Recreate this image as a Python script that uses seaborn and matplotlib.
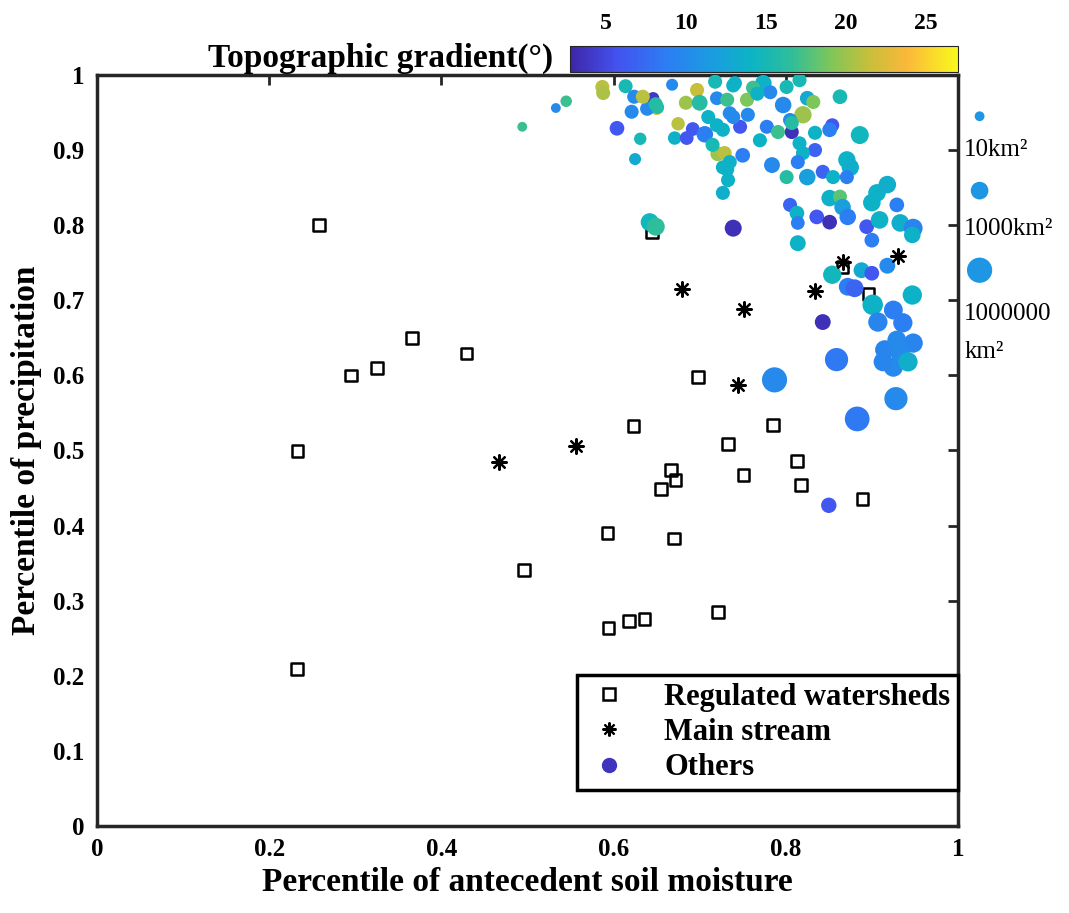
import numpy as np
import pandas as pd
import seaborn as sns
import matplotlib.pyplot as plt
from matplotlib.colors import LinearSegmentedColormap, Normalize
from matplotlib.cm import ScalarMappable
from matplotlib.lines import Line2D

# regulated watersheds (open squares)
reg_x = [0.258, 0.233, 0.295, 0.325, 0.366, 0.429, 0.232, 0.496, 0.593, 0.594,
         0.618, 0.636, 0.623, 0.655, 0.667, 0.672, 0.670, 0.698, 0.721, 0.733,
         0.751, 0.785, 0.813, 0.818, 0.889, 0.645, 0.866, 0.896]
reg_y = [0.800, 0.499, 0.600, 0.610, 0.650, 0.629, 0.209, 0.341, 0.390, 0.264,
         0.273, 0.276, 0.533, 0.449, 0.474, 0.461, 0.383, 0.598, 0.285, 0.509,
         0.467, 0.534, 0.486, 0.454, 0.435, 0.791, 0.744, 0.708]

# main stream (asterisks)
main_x = [0.467, 0.556, 0.679, 0.751, 0.744, 0.834, 0.866, 0.930]
main_y = [0.485, 0.506, 0.715, 0.688, 0.587, 0.712, 0.751, 0.759]

# others (circles): soil moisture, precipitation, area (km2), gradient (deg)
oth_x = [0.494, 0.533, 0.545, 0.587, 0.588, 0.614, 0.604, 0.624, 0.621, 0.631,
         0.625, 0.646, 0.650, 0.639, 0.649, 0.668, 0.642, 0.649, 0.697, 0.684,
         0.675, 0.671, 0.685, 0.692, 0.706, 0.718, 0.720, 0.700, 0.710, 0.721,
         0.715, 0.727, 0.727, 0.739, 0.741, 0.774, 0.782, 0.801, 0.816, 0.825,
         0.832, 0.863, 0.732, 0.755, 0.762, 0.797, 0.820, 0.805, 0.807, 0.807,
         0.854, 0.851, 0.886, 0.747, 0.735, 0.778, 0.791, 0.770, 0.834, 0.816,
         0.834, 0.820, 0.729, 0.750, 0.732, 0.733, 0.784, 0.814, 0.801, 0.825,
         0.843, 0.855, 0.871, 0.875, 0.871, 0.805, 0.813, 0.814, 0.836, 0.851,
         0.851, 0.863, 0.866, 0.872, 0.894, 0.906, 0.918, 0.900, 0.909, 0.929,
         0.933, 0.948, 0.947, 0.900, 0.814, 0.854, 0.888, 0.900, 0.918, 0.872,
         0.880, 0.901, 0.947, 0.925, 0.907, 0.936, 0.948, 0.915, 0.933, 0.925,
         0.942, 0.843, 0.859, 0.787, 0.928, 0.883, 0.850, 0.929, 0.913, 0.739,
         0.767, 0.735, 0.727, 0.720, 0.756, 0.739, 0.634, 0.651]
oth_y = [0.931, 0.956, 0.965, 0.984, 0.976, 0.985, 0.929, 0.971, 0.951, 0.915,
         0.888, 0.969, 0.956, 0.955, 0.961, 0.987, 0.804, 0.798, 0.980, 0.963,
         0.935, 0.916, 0.916, 0.928, 0.921, 0.991, 0.969, 0.963, 0.944, 0.895,
         0.907, 0.877, 0.843, 0.796, 0.989, 0.989, 0.977, 0.984, 0.993, 0.969,
         0.964, 0.971, 0.967, 0.967, 0.983, 0.960, 0.947, 0.940, 0.924, 0.936,
         0.933, 0.927, 0.920, 0.931, 0.949, 0.931, 0.924, 0.913, 0.923, 0.909,
         0.900, 0.896, 0.896, 0.893, 0.874, 0.860, 0.880, 0.884, 0.864, 0.864,
         0.871, 0.864, 0.887, 0.877, 0.864, 0.827, 0.816, 0.803, 0.811, 0.804,
         0.836, 0.838, 0.824, 0.811, 0.798, 0.843, 0.854, 0.830, 0.807, 0.827,
         0.803, 0.796, 0.787, 0.780, 0.776, 0.734, 0.740, 0.736, 0.746, 0.718,
         0.716, 0.694, 0.707, 0.687, 0.671, 0.670, 0.643, 0.634, 0.630, 0.611,
         0.618, 0.671, 0.621, 0.594, 0.569, 0.542, 0.427, 0.647, 0.618, 0.986,
         0.975, 0.884, 0.927, 0.933, 0.947, 0.944, 0.971, 0.957]
oth_area = [10, 10, 20, 70, 70, 70, 100, 70, 70, 30,
            25, 30, 70, 70, 70, 25, 800, 800, 70, 70,
            50, 50, 60, 60, 300, 70, 60, 200, 70, 100,
            70, 70, 70, 400, 70, 300, 70, 70, 70, 100,
            70, 100, 70, 70, 70, 300, 500, 70, 70, 70,
            70, 100, 800, 70, 70, 70, 70, 70, 70, 70,
            70, 70, 70, 100, 70, 70, 200, 70, 70, 300,
            70, 70, 500, 500, 70, 70, 100, 60, 100, 100,
            300, 70, 300, 300, 100, 600, 600, 600, 600, 100,
            600, 1500, 300, 100, 200, 1000, 200, 100, 200, 700,
            700, 5000, 2000, 1500, 2000, 2000, 2000, 2000, 2000, 2000,
            2000, 200, 50000, 300000, 50000, 200000, 150, 1500, 1500, 70,
            70, 70, 70, 70, 70, 70, 70, 50]
oth_grad = [17, 10, 17, 21, 20.5, 15, 6, 10, 10, 15,
            13, 4, 22, 10, 16, 10, 14.5, 16.5, 21.5, 20,
            21, 14, 6, 6, 9, 15, 10, 16, 14, 20,
            15, 14, 13.5, 3.5, 14, 14, 10, 15, 15, 13,
            19, 15, 17, 19, 17, 10, 20, 10, 3.5, 16,
            6, 9, 14.5, 6, 10, 9, 17, 14, 14, 14,
            7, 14, 21, 9, 14, 14, 10, 9, 16, 12,
            7, 14, 14, 13.5, 9, 7, 14, 9, 6, 3.5,
            14, 18, 12, 9, 6, 14, 13.5, 14, 14, 9,
            13.5, 9.5, 14, 9, 14, 14.5, 13, 6, 10, 9,
            7, 14, 14, 9, 9.5, 9, 9.5, 9.5, 10, 10,
            13.5, 3.5, 8.5, 10, 10, 8.5, 6, 10, 9.5, 14,
            14, 14, 14, 14, 10, 10, 21, 16]

size_levels = [10, 1000, 1000000]
size_labels = ['10km²', '1000km²', '1000000\nkm²']
cbar_ticks = [5, 10, 15, 20, 25]
x_ticks = [0, 0.2, 0.4, 0.6, 0.8, 1]
x_ticklabels = ['0', '0.2', '0.4', '0.6', '0.8', '1']
y_ticks = [0, 0.1, 0.2, 0.3, 0.4, 0.5, 0.6, 0.7, 0.8, 0.9, 1]
y_ticklabels = ['0', '0.1', '0.2', '0.3', '0.4', '0.5', '0.6', '0.7', '0.8', '0.9', '1']

sns.set_style('white')
plt.rcParams['font.family'] = ['Liberation Serif', 'DejaVu Serif']
plt.rcParams['text.color'] = 'black'
plt.rcParams['axes.labelcolor'] = 'black'
plt.rcParams['xtick.color'] = 'black'
plt.rcParams['ytick.color'] = 'black'

parula = LinearSegmentedColormap.from_list('parula', [
    (0.0, '#3e26a8'), (0.12, '#4352ef'), (0.25, '#2c7ef3'), (0.37, '#1a9ddf'),
    (0.47, '#0cb4c4'), (0.57, '#2ebe9a'), (0.67, '#7dc65a'), (0.77, '#c6bf3b'),
    (0.87, '#fbb83a'), (1.0, '#f8f81c')])
gnorm = Normalize(2.75, 27)

fig = plt.figure(figsize=(10.69, 9.13), dpi=100)
ax = fig.add_axes([0.0907, 0.0953, 0.8054, 0.8226])

sns.scatterplot(x=reg_x, y=reg_y, marker='s', s=70, facecolors='none',
                edgecolor='black', linewidth=1.8, ax=ax, zorder=2)

df = pd.DataFrame({'x': oth_x, 'y': oth_y,
                   'logA': np.log10(oth_area), 'grad': oth_grad})
sns.scatterplot(data=df, x='x', y='y', hue='grad', palette=parula,
                hue_norm=gnorm, size='logA', sizes=(50, 360), size_norm=(1, 6),
                linewidth=0, legend=False, ax=ax, zorder=3)

sns.scatterplot(x=main_x, y=main_y, marker=(8, 2, 0), s=110, color='black',
                linewidth=1.6, ax=ax, zorder=4)

ax.set_xlim(0, 1)
ax.set_ylim(0, 1)
ax.set_xticks(x_ticks)
ax.set_xticklabels(x_ticklabels)
ax.set_yticks(y_ticks)
ax.set_yticklabels(y_ticklabels)
ax.tick_params(direction='in', length=7, width=2, top=True, right=True,
               labelsize=18, color='#262626', pad=9)
for lab in ax.get_xticklabels() + ax.get_yticklabels():
    lab.set_fontweight('bold')
for sp in ax.spines.values():
    sp.set_linewidth(2.5)
    sp.set_color('#262626')
ax.set_xlabel('Percentile of antecedent soil moisture', fontsize=24,
              fontweight='bold', labelpad=4)
ax.set_ylabel('Percentile of precipitation', fontsize=24,
              fontweight='bold', labelpad=8)

handles = [
    Line2D([], [], marker='s', ls='none', mfc='none', mec='black', mew=1.8, ms=8),
    Line2D([], [], marker=(8, 2, 0), ls='none', color='black', mew=1.5, ms=10),
    Line2D([], [], marker='o', ls='none', color=parula(0.04), ms=10),
]
leg = ax.legend(handles, ['Regulated watersheds', 'Main stream', 'Others'],
                loc='lower right', bbox_to_anchor=(1.0, 0.048), borderaxespad=0,
                fancybox=False, edgecolor='black', framealpha=1,
                prop={'weight': 'bold', 'size': 22}, handletextpad=1.0,
                handlelength=1.6, labelspacing=0.2, borderpad=0.25)
leg.get_frame().set_linewidth(2.5)

# colorbar on top
cax = fig.add_axes([0.5332, 0.9211, 0.363, 0.0285])
cb = fig.colorbar(ScalarMappable(norm=gnorm, cmap=parula), cax=cax,
                  orientation='horizontal', ticks=cbar_ticks)
cax.xaxis.set_ticks_position('top')
cax.tick_params(direction='in', length=5, width=1.2, labelsize=17, pad=9)
for lab in cax.get_xticklabels():
    lab.set_fontweight('bold')
cb.outline.set_linewidth(0.8)
fig.text(0.517, 0.936, 'Topographic gradient(°)', ha='right', va='center',
         fontsize=24, fontweight='bold')

# size key on the right
kax = fig.add_axes([0.898, 0.0953, 0.102, 0.8226])
kax.set_xlim(0, 1)
kax.set_ylim(0, 1)
kax.axis('off')
key_y = [0.945, 0.846, 0.740]
sns.scatterplot(x=[0.18, 0.18, 0.18], y=key_y, hue=[11, 11, 11], palette=parula,
                hue_norm=gnorm, size=np.log10(size_levels), sizes=(50, 330),
                size_norm=(1, 6), linewidth=0, legend=False, ax=kax)
label_y = [0.915, 0.810, 0.697]
for yy, lab in zip(label_y, size_labels):
    kax.text(0.04, yy, lab, ha='left', va='top', fontsize=18, linespacing=1.95)

fig.savefig('out.png', dpi=100)
